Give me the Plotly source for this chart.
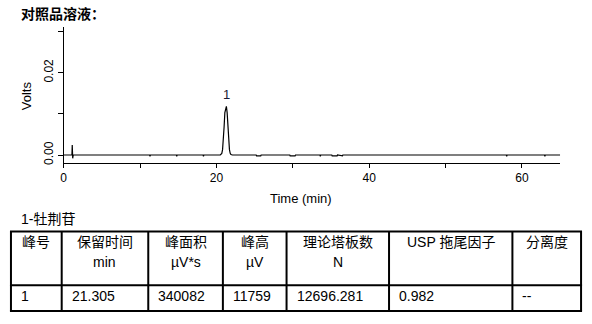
import plotly.graph_objects as go

# ---- data ----
time_min = [0.0, 1.08, 1.12, 1.15, 1.18, 1.21, 1.25, 11.25, 11.3, 11.35, 14.75, 14.8, 14.85,
            18.25, 18.3, 18.35, 20.5, 20.7, 20.8, 20.9, 21.0, 21.1, 21.2, 21.3, 21.4, 21.5,
            21.6, 21.7, 21.8, 21.9, 22.1, 25.2, 25.25, 25.8, 25.85, 29.6, 29.65, 30.3, 30.35,
            33.55, 33.6, 33.65, 35.1, 35.15, 35.8, 35.85, 36.5, 36.55, 57.95, 58.0, 58.05,
            62.95, 63.0, 63.05, 65.0]
volts = [0.0, 0.0, 0.0024, 0.0006, -0.0008, 0.0, 0.0, 0.0, -0.0003, 0.0, 0.0, -0.0003, 0.0,
         0.0, -0.0003, 0.0, 0.0, 0.0004, 0.0013, 0.0034, 0.0068, 0.0103, 0.0116, 0.0118, 0.0103, 0.0068,
         0.0034, 0.0013, 0.0004, 0.0001, 0.0, 0.0, -0.0002, -0.0002, 0.0, 0.0, -0.0002, -0.0002, 0.0,
         0.0, -0.0003, 0.0, 0.0, -0.0002, -0.0002, 0.0, -0.0002, 0.0, 0.0, -0.0003, 0.0,
         0.0, -0.0003, 0.0, 0.0]

peak_labels = ["1"]
peak_times = [21.3]
peak_heights = [0.0118]

x_tickvals = [0, 10, 20, 30, 40, 50, 60]
x_ticktext = ["0", "", "20", "", "40", "", "60"]
y_tickvals = [0.0, 0.01, 0.02, 0.03]
y_ticktext = ["0.00", "", "0.02", ""]

title_text = "对照品溶液："
compound_text = "1-牡荆苷"
header_line1 = ["峰号", "保留时间", "峰面积", "峰高", "理论塔板数", "USP 拖尾因子", "分离度"]
header_line2 = ["", "min", "µV*s", "µV", "N", "", ""]
table_row = ["1", "21.305", "340082", "11759", "12696.281", "0.982", "--"]
col_widths = [51, 87, 75, 64, 103, 124, 69]

W, H = 592, 324
FONT = "Liberation Sans, Arial, Noto Sans CJK SC, sans-serif"
CJK = "Noto Sans CJK SC, Liberation Sans, sans-serif"

fig = go.Figure()
fig.add_trace(go.Scatter(x=time_min, y=volts, mode="lines",
                         line=dict(color="black", width=1.2), showlegend=False,
                         hoverinfo="skip"))

for lab, t, h in zip(peak_labels, peak_times, peak_heights):
    fig.add_annotation(x=t, y=h, text=lab, showarrow=False, yshift=12,
                       xanchor="center", yanchor="middle",
                       font=dict(family=FONT, size=13, color="#1a1a33"))

px = lambda x: x / W
py = lambda y: 1 - y / H

fig.update_layout(
    width=W, height=H, margin=dict(l=0, r=0, t=0, b=0),
    paper_bgcolor="white", plot_bgcolor="white",
    font=dict(family=FONT, size=12, color="black"),
    xaxis=dict(domain=[px(61), px(560)], range=[0, 65], showline=True, linecolor="black",
               linewidth=1, ticks="outside", ticklen=4, tickcolor="black",
               tickvals=x_tickvals, ticktext=x_ticktext, showgrid=False, zeroline=False,
               tickfont=dict(size=12)),
    yaxis=dict(domain=[py(164), py(27)], range=[-0.00194, 0.03114], showline=True,
               linecolor="black", linewidth=1, ticks="outside", ticklen=5, tickcolor="black",
               tickvals=y_tickvals, ticktext=y_ticktext, tickangle=-90, showgrid=False,
               zeroline=False, tickfont=dict(size=12)),
)


def label(x, y, text, font, xanchor="center", angle=0):
    fig.add_annotation(xref="paper", yref="paper", x=px(x), y=py(y), text=text,
                       xanchor=xanchor, yanchor="middle", textangle=angle,
                       showarrow=False, font=font)


label(300, 200, "Time (min)", dict(family=FONT, size=13))
label(24, 96, "Volts", dict(family=FONT, size=13), angle=-90)
label(16, 13, "<b>" + title_text + "</b>", dict(family=CJK, size=14), xanchor="left")
label(16, 220, compound_text, dict(family=FONT, size=14), xanchor="left")

# ---- table (lines + text in paper coordinates) ----
tbl_left, tbl_top, tbl_mid, tbl_bottom = 8, 233, 287, 313
edges = [tbl_left]
for w in col_widths:
    edges.append(edges[-1] + w)
line_style = dict(color="black", width=2)
for yy in (tbl_top, tbl_mid, tbl_bottom):
    fig.add_shape(type="line", xref="paper", yref="paper", x0=px(edges[0] - 1), x1=px(edges[-1] + 1),
                  y0=py(yy), y1=py(yy), line=line_style)
for xx in edges:
    fig.add_shape(type="line", xref="paper", yref="paper", x0=px(xx), x1=px(xx),
                  y0=py(tbl_top), y1=py(tbl_bottom), line=line_style)

tfont = dict(family=FONT, size=14, color="black")
for i in range(len(col_widths)):
    cx = (edges[i] + edges[i + 1]) / 2
    label(cx, 243, header_line1[i], tfont)
    if header_line2[i]:
        label(cx, 264, header_line2[i], tfont)
    label(edges[i] + 8, 298, table_row[i], tfont, xanchor="left")

fig.write_html("out.html")
